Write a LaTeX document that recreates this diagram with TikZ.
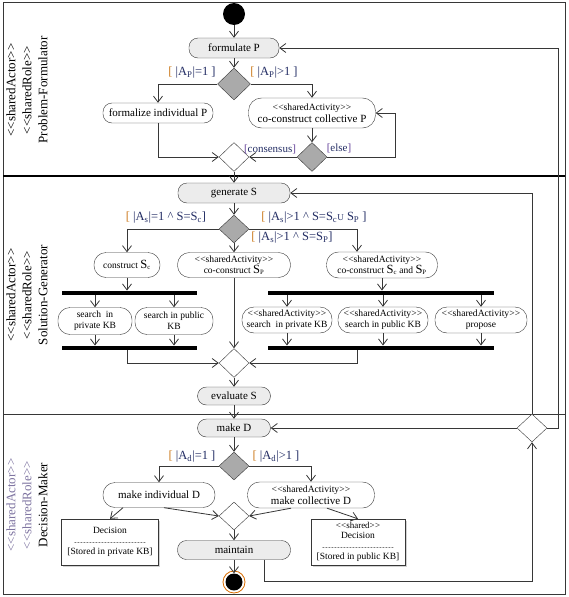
\documentclass[tikz,border=0pt]{standalone}
\usepackage{fontspec}
\setmainfont{Liberation Serif}
\usetikzlibrary{arrows.meta,positioning,shapes.geometric,shadows}
\definecolor{umlgray}{RGB}{236,236,236}
\definecolor{umldec}{RGB}{170,170,170}
\definecolor{umlline}{RGB}{55,55,55}
\definecolor{grdorange}{RGB}{205,125,35}
\definecolor{grdnavy}{RGB}{35,45,100}
\definecolor{grdpurple}{RGB}{95,60,150}
\definecolor{lanelight}{RGB}{125,115,160}
\newcommand{\stereo}[1]{\textless\kern0.2pt\textless#1\textgreater\kern0.2pt\textgreater}
\newcommand{\lsub}[1]{\textsubscript{#1}}
\newcommand{\grd}[1]{{\color{grdorange}[}\ {\color{grdnavy}#1}\ {\color{grdnavy}]}}
\newcommand{\grdn}[1]{{\color{grdorange}[}\ {\color{grdnavy}#1}{\color{grdnavy}]}}
\newcommand{\cgrd}[1]{{\color{grdpurple}[}#1{\color{grdpurple}]}}
\newcommand{\sharedact}{{\fontsize{9.6}{10.5}\selectfont\stereo{sharedActivity}}}
\newcommand{\bigS}[1]{{\fontsize{12.5}{12}\selectfont S}\lsub{#1}}
\newcommand{\dashline}{\hbox to 72pt{\leaders\hbox to 3pt{\hss\fontsize{7}{7}\selectfont-\hss}\hfill}}

\begin{document}
\begin{tikzpicture}[x=1pt, y=-1pt,
  act/.style={rectangle, rounded corners=9pt, draw=umlline, fill=white, inner sep=1pt,
              align=center, font=\fontsize{11}{12}\selectfont},
  gact/.style={act, fill=umlgray},
  sact/.style={act, rounded corners=12pt, font=\fontsize{9.5}{11}\selectfont},
  dec/.style={diamond, draw=umlline, fill=umldec, minimum width=30pt,
              minimum height=29pt, inner sep=0pt},
  mrg/.style={dec, fill=white},
  bar/.style={rectangle, fill=black, minimum height=4.5pt, inner sep=0pt},
  obj/.style={rectangle, draw=umlline, fill=white, align=center, inner sep=1pt,
              drop shadow={shadow xshift=1.5pt, shadow yshift=-1.5pt, fill=black!35},
              font=\fontsize{9.5}{10.5}\selectfont, minimum height=46pt},
  guard/.style={font=\fontsize{12.5}{13}\selectfont, inner sep=1pt},
  cguard/.style={font=\fontsize{11}{12}\selectfont, inner sep=1pt, text=grdnavy},
  lane/.style={rotate=90, align=center, font=\fontsize{13}{16}\selectfont},
  arr/.style={-{Straight Barb[length=6pt,width=9pt]}, draw=umlline, line width=0.8pt}
]
\useasboundingbox (0,0) rectangle (569,597);

% Swimlanes
\draw[umlline, line width=0.8pt] (3,2) rectangle (565,594);
\draw[black, line width=1.8pt] (3,176) -- (565,176);
\draw[umlline, line width=1pt] (3,414) -- (565,414);
\node[lane] (laneP) at (27,90) {\stereo{sharedActor}\\\stereo{sharedRole}\\Problem-Formulator};
\node[lane] (laneS) at (27,295) {\stereo{sharedActor}\\\stereo{sharedRole}\\Solution-Generator};
\node[lane] (laneD) at (27,505)
  {{\color{lanelight}\stereo{sharedActor}}\\{\color{lanelight}\stereo{sharedRole}}\\Decision-Maker};

% Problem formulation
\node[circle, fill=black, minimum size=22pt, inner sep=0pt] (init) at (234,14) {};
\node[gact, minimum width=90pt, minimum height=20pt] (fP) at (234,48) {formulate P};
\node[dec, minimum width=33pt, minimum height=32pt] (d1) at (234,84) {};
\node[act, minimum width=110pt, minimum height=20pt] (fiP) at (158,113) {formalize individual P};
\node[act, rounded corners=13pt, minimum width=127pt, minimum height=30pt] (ccP) at (312,113)
  {\sharedact\\co-construct collective P};
\node[dec] (d2) at (312,157) {};
\node[mrg] (m1) at (234,157) {};
\node[guard] (g1) at (192,73) {\grd{|A\lsub{P}|=1}};
\node[guard] (g2) at (274,73) {\grd{|A\lsub{P}|>1}};
\node[cguard] (g3) at (270,149) {\cgrd{consensus}};
\node[cguard] (g4) at (339,148) {\cgrd{else}};

% Solution generation
\node[gact, minimum width=112pt, minimum height=20pt] (gS) at (234,193) {generate S};
\node[dec, minimum height=28pt] (d3) at (234,229) {};
\node[sact, minimum width=66pt, minimum height=25pt] (cSc) at (127,265) {construct \bigS{c}};
\node[sact, minimum width=113pt, minimum height=25pt] (ccSp) at (234,265)
  {\sharedact\\co-construct \bigS{P}};
\node[sact, minimum width=111pt, minimum height=26pt] (ccScSp) at (382,265)
  {\sharedact\\co-construct \bigS{c} and \bigS{P}};
\node[bar, minimum width=135pt] (forkL) at (129.5,293) {};
\node[bar, minimum width=135pt] (joinL) at (129.5,348) {};
\node[sact, minimum width=74pt, minimum height=27pt] (spL) at (95,321) {search\ \ in\\private KB};
\node[sact, minimum width=78pt, minimum height=27pt] (puL) at (174,321) {search in public\\KB};
\node[bar, minimum width=226pt] (forkR) at (381,293) {};
\node[bar, minimum width=226pt] (joinR) at (381,348) {};
\node[sact, minimum width=90pt, minimum height=26pt] (spS) at (287,320)
  {\sharedact\\search\ \ in private KB};
\node[sact, minimum width=90pt, minimum height=26pt] (puS) at (383,320)
  {\sharedact\\search in public KB};
\node[sact, minimum width=92pt, minimum height=26pt] (prS) at (481,320) {\sharedact\\propose};
\node[mrg] (m2) at (234,363) {};
\node[gact, minimum width=73pt, minimum height=18pt] (eS) at (234,396) {evaluate S};
\node[guard] (g5) at (166,218) {\grdn{|A\lsub{s}|=1 \textasciicircum{} S=S\lsub{c}}};
\node[guard] (g6) at (314,218)
  {\grd{|A\lsub{s}|>1 \textasciicircum{} S=S\lsub{c}{\fontsize{9}{9}\selectfont U} S\lsub{P}}};
\node[guard] (g7) at (292,238) {\grdn{|A\lsub{s}|>1 \textasciicircum{} S=S\lsub{P}}};

% Decision making
\node[gact, minimum width=73pt, minimum height=18pt] (mD) at (234,428) {make D};
\node[dec, minimum height=28pt] (d4) at (234,466) {};
\node[act, rounded corners=12pt, minimum width=112pt, minimum height=25pt] (miD) at (159,495)
  {make individual D};
\node[act, rounded corners=12pt, minimum width=127pt, minimum height=26pt] (mcD) at (311,495)
  {\sharedact\\make collective D};
\node[mrg, minimum height=28pt] (m3) at (234,516) {};
\node[obj, minimum width=97pt] (decP) at (110,542) {Decision\\\dashline\\{[}Stored in private KB{]}};
\node[obj, minimum width=94pt] (decS) at (358,542)
  {{\fontsize{9}{9.5}\selectfont\stereo{shared}}\\Decision\\\dashline\\{[}Stored in public KB{]}};
\node[gact, minimum width=113pt, minimum height=19pt] (mt) at (234,550) {maintain};
\node[circle, fill=black, minimum size=17pt, inner sep=0pt] (fin) at (234,582) {};
\draw[orange!85!black, line width=0.8pt] (fin) circle[radius=11pt];
\node[mrg, minimum height=28pt] (m4) at (532,428) {};
\node[guard] (g8) at (192,457) {\grd{|A\lsub{d}|=1}};
\node[guard] (g9) at (276,457) {\grd{|A\lsub{d}|>1}};

% Flows: problem formulation
\draw[arr] (init) -- (fP);
\draw[arr] (fP) -- (d1);
\draw[arr] (d1.west) -| (fiP.north);
\draw[arr] (d1.east) -| (ccP.north);
\draw[arr] (ccP) -- (d2);
\draw[arr] (d2.east) -- ++(68,0) |- (ccP.east);
\draw[arr] (d2.west) -- (m1.east);
\draw[arr] (fiP.south) |- (m1.west);
\draw[arr] (m1) -- (gS);

% Flows: solution generation
\draw[arr] (gS) -- (d3);
\draw[arr] (d3.west) -| (cSc.north);
\draw[arr] (d3) -- (ccSp);
\draw[arr] (d3.east) -| ([xshift=-25pt]ccScSp.north);
\draw[arr] (cSc) -- (cSc |- forkL.north);
\foreach \n in {spL,puL} {
  \draw[arr] (\n |- forkL.south) -- (\n);
  \draw[arr] (\n) -- (\n |- joinL.north);
}
\draw[arr] (cSc |- joinL.south) |- (m2.west);
\draw[arr] (ccSp) -- (m2);
\draw[arr] (ccScSp) -- (ccScSp |- forkR.north);
\foreach \n in {spS,puS,prS} {
  \draw[arr] (\n |- forkR.south) -- (\n);
  \draw[arr] (\n) -- (\n |- joinR.north);
}
\draw[arr] ([xshift=-25pt]ccScSp.north |- joinR.south) |- (m2.east);
\draw[arr] (m2) -- (eS);

% Flows: decision making
\draw[arr] (eS) -- (mD);
\draw[arr] (mD) -- (d4);
\draw[arr] (d4.west) -| (miD.north);
\draw[arr] (d4.east) -| (mcD.north);
\draw[arr] ([xshift=5pt]miD.south) -- (m3.west);
\draw[arr] ([xshift=-20pt]mcD.south) -- (m3.east);
\draw[arr] ([xshift=-36pt]miD.south) -- (decP.north);
\draw[arr] ([xshift=16pt]mcD.south) -- (decS.north);
\draw[arr] (m3) -- (mt);
\draw[arr] (mt) -- (fin);

% Loops back
\draw[arr] ([xshift=30pt]mt.south) -- ++(0,22) -| (m4.south);
\draw[arr] (m4.west) -- (mD.east);
\draw[arr] (m4.north) |- (gS.east);
\draw[arr] (m4.east) -- ++(11,0) |- (fP.east);
\end{tikzpicture}
\end{document}
